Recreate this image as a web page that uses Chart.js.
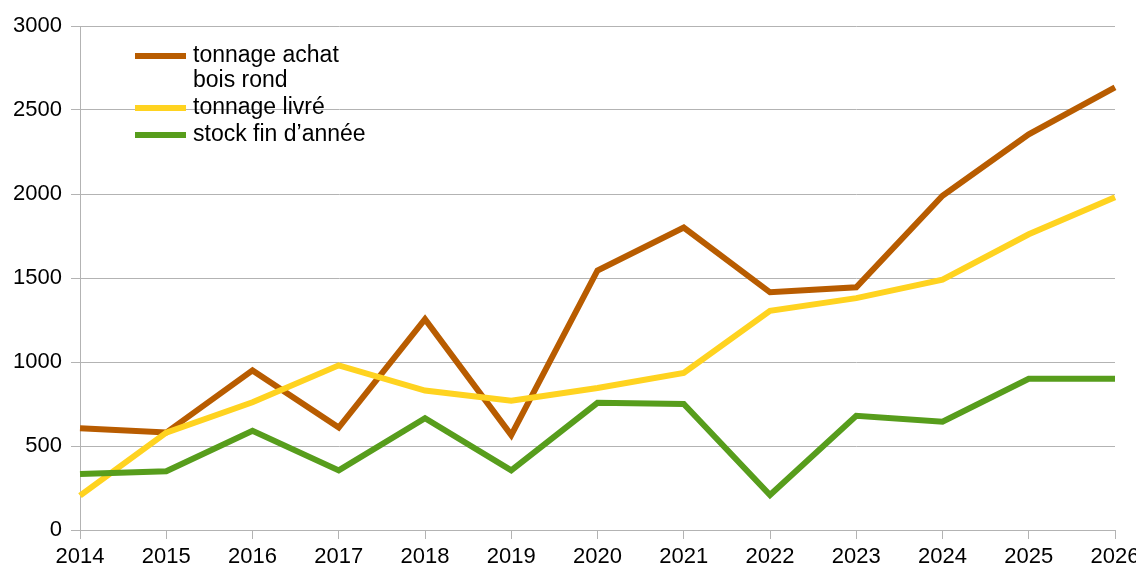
<!DOCTYPE html>
<html>
<head>
<meta charset="utf-8">
<script src="https://cdn.jsdelivr.net/npm/chart.js@4"></script>
<style>
  html, body { margin: 0; padding: 0; background: #fff; overflow: hidden; }
  #wrap { position: relative; width: 1160px; height: 569px; }
</style>
</head>
<body>
<div id="wrap"><canvas id="chart"></canvas></div>
<script>
// Data (tonnes)
const years = ['2014','2015','2016','2017','2018','2019','2020','2021','2022','2023','2024','2025','2026'];
const achat = [605, 580, 950, 610, 1255, 565, 1545, 1800, 1415, 1445, 1990, 2355, 2635];
const livre = [205, 580, 760, 980, 830, 770, 845, 935, 1305, 1380, 1490, 1760, 1980];
const stock = [333, 350, 590, 355, 665, 355, 757, 750, 208, 680, 645, 900, 900];
const yTicks = [0, 500, 1000, 1500, 2000, 2500, 3000];

const COL_ACHAT = '#b85c00', COL_LIVRE = '#ffd320', COL_STOCK = '#579d1c';
const FONT = 'Liberation Sans, Arial, sans-serif';

// legend drawn inside the plot, top-left
const legendPlugin = {
  id: 'insideLegend',
  afterDraw(chart) {
    const ctx = chart.ctx;
    const items = [
      { lines: ['tonnage achat', 'bois rond'], color: COL_ACHAT },
      { lines: ['tonnage livré'], color: COL_LIVRE },
      { lines: ['stock fin d\u2019année'], color: COL_STOCK }
    ];
    let y = 56;
    ctx.save();
    ctx.font = '23px ' + FONT;
    ctx.textBaseline = 'middle';
    items.forEach(it => {
      ctx.fillStyle = it.color;
      ctx.fillRect(135, y - 3, 51, 6);
      ctx.fillStyle = '#000';
      it.lines.forEach((l, i) => {
        ctx.fillText(l, 193, y + i * 25);
      });
      y += it.lines.length * 25 + 2;
    });
    ctx.restore();
  }
};

const ds = (label, data, color) => ({
  label, data, borderColor: color, backgroundColor: color,
  borderWidth: 6, pointRadius: 0, tension: 0, fill: false,
  borderJoinStyle: 'miter'
});

new Chart(document.getElementById('chart'), {
  type: 'line',
  data: {
    labels: years,
    datasets: [
      ds('stock fin d\u2019année', stock, COL_STOCK),
      ds('tonnage livré', livre, COL_LIVRE),
      ds('tonnage achat bois rond', achat, COL_ACHAT)
    ]
  },
  options: {
    responsive: true, maintainAspectRatio: false, animation: false,
    layout: { padding: { top: 26, right: 45, left: 0, bottom: 0 } },
    plugins: { legend: { display: false }, tooltip: { enabled: false } },
    scales: {
      x: {
        offset: false,
        afterFit: s => { s.height = 39; },
        grid: { display: true, drawOnChartArea: false, color: '#b3b3b3', tickLength: 9, tickColor: '#b3b3b3' },
        border: { color: '#b3b3b3' },
        ticks: { color: '#000', font: { family: FONT, size: 22 }, maxRotation: 0, autoSkip: false, padding: 5 }
      },
      y: {
        min: 0, max: 3000,
        afterBuildTicks: s => { s.ticks = yTicks.map(v => ({ value: v })); },
        afterFit: s => { s.width = 80; },
        grid: { color: '#b3b3b3', tickLength: 9, tickColor: '#b3b3b3' },
        border: { color: '#b3b3b3' },
        ticks: { color: '#000', font: { family: FONT, size: 22 }, padding: 9, callback: v => String(v) }
      }
    }
  },
  plugins: [legendPlugin]
});
</script>
</body>
</html>
